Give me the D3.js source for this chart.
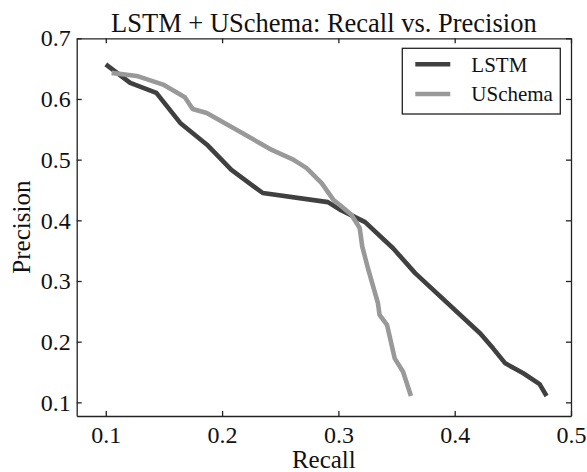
<!DOCTYPE html>
<html>
<head>
<meta charset="utf-8">
<script src="https://cdn.jsdelivr.net/npm/d3@7"></script>
<style>
  body { margin: 0; background: #fff; }
  svg text { font-family: 'Liberation Serif', 'DejaVu Serif', serif; }
</style>
</head>
<body>
<svg width="587" height="472"></svg>
<script>
const lstmRecall = [0.100, 0.121, 0.1435, 0.164, 0.187, 0.208, 0.235, 0.291, 0.301, 0.323,
  0.347, 0.366, 0.422, 0.433, 0.4435, 0.459, 0.473, 0.479];
const lstmPrecision = [0.657, 0.6265, 0.610, 0.5605, 0.5247, 0.483, 0.445, 0.430, 0.418, 0.397,
  0.354, 0.313, 0.2135, 0.189, 0.1643, 0.148, 0.130, 0.1105];

const uschemaRecall = [0.105, 0.1266, 0.1493, 0.168, 0.1747, 0.1868, 0.215, 0.2326, 0.2427, 0.2612,
  0.2727, 0.2856, 0.2956, 0.301, 0.311, 0.3183, 0.3205, 0.3254, 0.334, 0.3354, 0.3418, 0.3484,
  0.3556, 0.3624];
const uschemaPrecision = [0.643, 0.638, 0.6237, 0.603, 0.5835, 0.5768, 0.5465, 0.527, 0.516, 0.500,
  0.486, 0.4613, 0.434, 0.4256, 0.4095, 0.3875, 0.357, 0.321, 0.2635, 0.244, 0.2278, 0.1725,
  0.1505, 0.1105];

const xTicks = [0.1, 0.2, 0.3, 0.4, 0.5];
const yTicks = [0.1, 0.2, 0.3, 0.4, 0.5, 0.6, 0.7];

const margin = { top: 38.3, right: 16, bottom: 56, left: 76.7 },
      width = 587 - margin.left - margin.right,
      height = 472 - margin.top - margin.bottom;

const svg = d3.select("svg")
  .append("g")
  .attr("transform", `translate(${margin.left},${margin.top})`);

// Scales
const x = d3.scaleLinear().domain([0.075, 0.5]).range([0, width]);
const y = d3.scaleLinear().domain([0.0775, 0.7]).range([height, 0]);

const fmt = d3.format(".1f");
const tickFont = "'Liberation Serif', 'DejaVu Serif', serif";

// restyle an axis group like matplotlib's
function styleAxis(g) {
  g.attr("font-family", tickFont).attr("font-size", 24);
  g.selectAll("path, line").attr("stroke", "#222").attr("stroke-width", 1.3);
  g.selectAll("text")
    .attr("font-family", tickFont)
    .attr("font-size", 24)
    .style("font-family", tickFont)
    .style("font-size", "24px")
    .style("fill", "#111");
}

// Axes, ticks pointing inward on all four sides
svg.append("g")
  .attr("transform", `translate(0,${height})`)
  .call(d3.axisBottom(x).tickValues(xTicks).tickFormat(fmt)
    .tickSizeInner(-5).tickSizeOuter(0).tickPadding(10))
  .call(styleAxis);

svg.append("g")
  .call(d3.axisLeft(y).tickValues(yTicks).tickFormat(fmt)
    .tickSizeInner(-5).tickSizeOuter(0).tickPadding(6))
  .call(styleAxis);

svg.append("g")
  .call(d3.axisTop(x).tickValues(xTicks).tickFormat("")
    .tickSizeInner(-5).tickSizeOuter(0))
  .call(styleAxis);

svg.append("g")
  .attr("transform", `translate(${width},0)`)
  .call(d3.axisRight(y).tickValues(yTicks).tickFormat("")
    .tickSizeInner(-5).tickSizeOuter(0))
  .call(styleAxis);

// Lines
const series = [
  { name: "LSTM", color: "#404040",
    values: lstmRecall.map((r, i) => ({ r, p: lstmPrecision[i] })) },
  { name: "USchema", color: "#999999",
    values: uschemaRecall.map((r, i) => ({ r, p: uschemaPrecision[i] })) }
];

const line = d3.line()
  .x(d => x(d.r))
  .y(d => y(d.p));

svg.selectAll(".series")
  .data(series)
  .enter()
  .append("path")
  .attr("class", "series")
  .attr("fill", "none")
  .attr("stroke", d => d.color)
  .attr("stroke-width", 4.6)
  .attr("stroke-linejoin", "round")
  .attr("d", d => line(d.values));

// Legend
const legend = svg.append("g")
  .attr("transform", `translate(${width - 168.7},10)`);

legend.append("rect")
  .attr("width", 158)
  .attr("height", 65.7)
  .attr("fill", "#fff")
  .attr("stroke", "#222")
  .attr("stroke-width", 1.3);

series.forEach((s, i) => {
  const ly = 16 + i * 29.7;
  legend.append("line")
    .attr("x1", 13).attr("x2", 48)
    .attr("y1", ly).attr("y2", ly)
    .attr("stroke", s.color)
    .attr("stroke-width", 4.6);
  legend.append("text")
    .attr("x", 69)
    .attr("y", ly)
    .attr("dy", "0.35em")
    .style("font-size", "21px")
    .style("fill", "#111")
    .text(s.name);
});

// Axis labels and title
d3.select("svg").append("text")
  .attr("x", margin.left + width / 2)
  .attr("y", 468)
  .attr("text-anchor", "middle")
  .style("font-size", "25px")
  .style("fill", "#111")
  .text("Recall");

d3.select("svg").append("text")
  .attr("transform", `translate(30,${margin.top + height / 2}) rotate(-90)`)
  .attr("text-anchor", "middle")
  .style("font-size", "25px")
  .style("fill", "#111")
  .text("Precision");

d3.select("svg").append("text")
  .attr("x", margin.left + width / 2)
  .attr("y", 32)
  .attr("text-anchor", "middle")
  .style("font-size", "26.5px")
  .style("fill", "#111")
  .text("LSTM + USchema: Recall vs. Precision");
</script>
</body>
</html>
